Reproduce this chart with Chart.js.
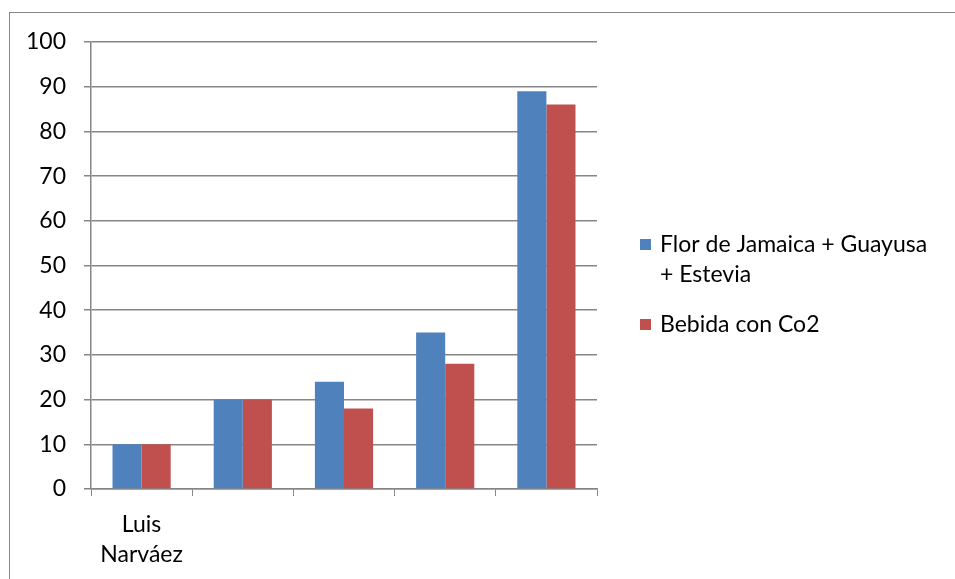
<!DOCTYPE html>
<html>
<head>
<meta charset="utf-8">
<script src="https://cdn.jsdelivr.net/npm/chart.js@4.4.1/dist/chart.umd.min.js"></script>
<style>
  html, body { margin: 0; padding: 0; background: #fff; }
  #wrap { width: 955px; height: 579px; position: relative; }
</style>
</head>
<body>
<div id="wrap"><canvas id="c" width="955" height="579"></canvas></div>
<script>
// Categories (only the first one carries a name)
const categories = [["Luis", "Narváez"], "", "", "", ""];
// Series values
const jamaicaValues = [10, 20, 24, 35, 89];
const co2Values = [10, 20, 18, 28, 86];
const seriesNames = ["Flor de Jamaica + Guayusa + Estevia", "Bebida con Co2"];
// Value axis ticks
const yTicks = [0, 10, 20, 30, 40, 50, 60, 70, 80, 90, 100];

const FONT = "Lato";
const FONT_SIZE = 23;
const GRID = "#868686";

// Frame around the whole chart
const framePlugin = {
  id: "frame",
  beforeDraw(chart) {
    const ctx = chart.ctx;
    ctx.save();
    ctx.fillStyle = "#fff";
    ctx.fillRect(0, 0, chart.width, chart.height);
    ctx.strokeStyle = GRID;
    ctx.lineWidth = 1;
    ctx.strokeRect(9.5, 12.5, 2000, 2000);
    ctx.restore();
  }
};

// Legend on the right with wrapped labels
const sideLegend = {
  id: "sideLegend",
  afterDraw(chart) {
    const ctx = chart.ctx;
    ctx.save();
    ctx.font = FONT_SIZE + "px " + FONT;
    ctx.textBaseline = "middle";
    ctx.fillStyle = "#000";
    const boxX = 640, textX = 660, maxW = 275, lineH = 30, itemGap = 20;
    let y = 245;
    chart.data.datasets.forEach(ds => {
      const words = ds.label.split(" ");
      const lines = [];
      let cur = "";
      words.forEach(w => {
        const t = cur ? cur + " " + w : w;
        if (ctx.measureText(t).width > maxW && cur) { lines.push(cur); cur = w; }
        else cur = t;
      });
      if (cur) lines.push(cur);
      ctx.fillStyle = ds.backgroundColor;
      ctx.fillRect(boxX, y - 6, 11, 11);
      ctx.fillStyle = "#000";
      lines.forEach((ln, i) => ctx.fillText(ln, textX, y + i * lineH));
      y += lines.length * lineH + itemGap;
    });
    ctx.restore();
  }
};

new Chart(document.getElementById("c"), {
  type: "bar",
  data: {
    labels: categories,
    datasets: [
      { label: seriesNames[0], data: jamaicaValues, backgroundColor: "#4F81BD", borderColor: "#4F81BD", borderWidth: 0 },
      { label: seriesNames[1], data: co2Values, backgroundColor: "#C0504D", borderColor: "#C0504D", borderWidth: 0 }
    ]
  },
  options: {
    responsive: false,
    animation: false,
    layout: { padding: { left: 10, top: 42, right: 358, bottom: 0 } },
    plugins: { legend: { display: false }, tooltip: { enabled: false } },
    datasets: { bar: { categoryPercentage: 0.575, barPercentage: 1.0 } },
    scales: {
      x: {
        offset: true,
        grid: { offset: true, drawOnChartArea: false, drawTicks: true, tickLength: 7, color: GRID, lineWidth: 1 },
        border: { color: GRID, width: 1.5 },
        ticks: { color: "#000", font: { family: FONT, size: FONT_SIZE, lineHeight: 1.33 }, padding: 13, maxRotation: 0, autoSkip: false },
        afterFit(scale) { scale.height = 90; }
      },
      y: {
        min: 0, max: 100,
        afterBuildTicks(scale) { scale.ticks = yTicks.map(v => ({ value: v })); },
        grid: { color: GRID, lineWidth: 1.5, tickLength: 7 },
        border: { color: GRID, width: 1.5 },
        ticks: { color: "#000", font: { family: FONT, size: FONT_SIZE }, padding: 18 },
        afterFit(scale) { scale.width = 81; }
      }
    }
  },
  plugins: [framePlugin, sideLegend]
});
</script>
</body>
</html>
